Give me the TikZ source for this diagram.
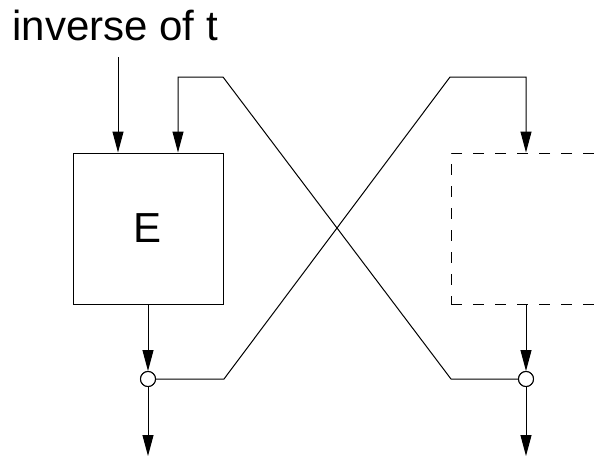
\documentclass[tikz,border=0pt]{standalone}
\usepackage{fontspec}
\setmainfont{Liberation Sans}
\usetikzlibrary{arrows.meta}
\begin{document}
\begin{tikzpicture}[x=1pt,y=-1pt,
  line width=1pt,
  big/.style={font=\fontsize{42}{48}\selectfont},
  blk/.style={draw, rectangle, minimum width=150pt, minimum height=151pt, inner sep=0pt},
  ghost/.style={blk, dash pattern=on 11pt off 11pt},
  junc/.style={draw, circle, fill=white, minimum size=15pt, inner sep=0pt},
  flow/.style={-{Triangle[length=21pt,width=11pt]}}]
  % page frame
  \clip (0,0) rectangle (595,458);
  \fill[white] (0,0) rectangle (595,458);

  % label and blocks
  \node[big, anchor=base west, inner sep=0pt] (lbl) at (12,40) {inverse of t};
  \node[blk, big] (enc) at (148,228.5) {E};
  \node[ghost] (dbox) at (526,228.5) {};
  \node[junc] (jl) at (148,379) {};
  \node[junc] (jr) at (526,379) {};

  % bend points of the crossing lines
  \coordinate (inTop) at (118,57);
  \coordinate (aTop) at (178,77);
  \coordinate (aBend) at (223,77);
  \coordinate (aLow) at (451,379);
  \coordinate (bLow) at (224,379);
  \coordinate (bBend) at (450,77);
  \coordinate (bTop) at (526,77);
  \coordinate (outL) at (148,456);
  \coordinate (outR) at (526,456);

  % inputs to E
  \draw[flow] (inTop) -- (inTop |- enc.north);
  \draw[flow] (jr.west) -- (aLow) -- (aBend) -- (aTop) -- (aTop |- enc.north);

  % crossing line to the dashed block
  \draw[flow] (jl.east) -- (bLow) -- (bBend) -- (bTop) -- (dbox.north);

  % block outputs into the junctions
  \draw[flow] (enc.south) -- (jl.north);
  \draw[flow] (dbox.south) -- (jr.north);

  % outgoing arrows
  \draw[flow] (jl.south) -- (outL);
  \draw[flow] (jr.south) -- (outR);

  % redraw junctions on top of the lines
  \node[junc] at (jl) {};
  \node[junc] at (jr) {};
\end{tikzpicture}
\end{document}
